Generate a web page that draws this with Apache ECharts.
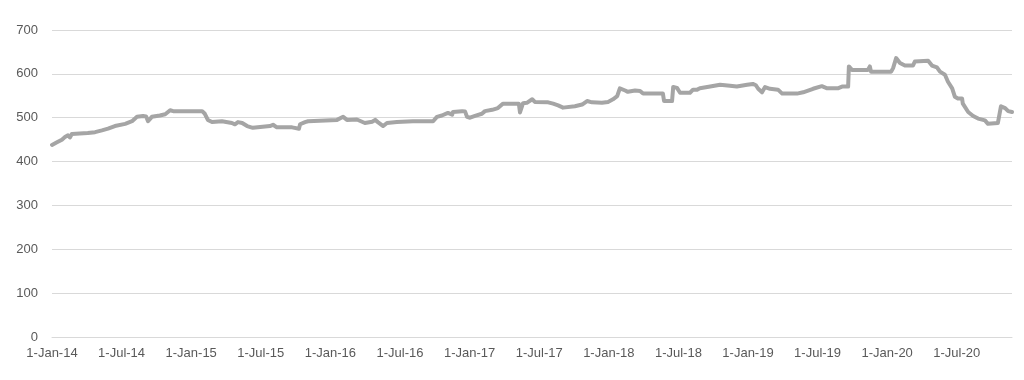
<!DOCTYPE html>
<html>
<head>
<meta charset="utf-8">
<script src="https://cdn.jsdelivr.net/npm/echarts@6/dist/echarts.min.js"></script>
<style>
  html, body { margin: 0; padding: 0; background: #fff; }
  #chart { width: 1024px; height: 380px; }
</style>
</head>
<body>
<div id="chart"></div>
<script>
// Dates of the series (step points)
const dates = [
  "2014-01-01","2014-01-14","2014-01-27","2014-02-04","2014-02-12","2014-02-17","2014-02-22","2014-04-05","2014-04-24","2014-05-12",
  "2014-05-28","2014-06-15","2014-07-12","2014-07-30","2014-08-12","2014-08-28","2014-09-05","2014-09-10","2014-09-20","2014-10-11",
  "2014-10-25","2014-11-07","2014-11-15","2015-01-30","2015-02-06","2015-02-14","2015-02-25","2015-03-23","2015-04-18","2015-04-26",
  "2015-05-04","2015-05-15","2015-05-28","2015-06-12","2015-07-27","2015-08-04","2015-08-14","2015-09-23","2015-09-25","2015-10-11",
  "2015-10-14","2015-10-27","2015-11-04","2016-01-19","2016-02-04","2016-02-14","2016-03-11","2016-04-01","2016-04-20","2016-04-28",
  "2016-05-05","2016-05-19","2016-05-29","2016-06-24","2016-08-05","2016-09-27","2016-10-07","2016-10-20","2016-11-05","2016-11-16",
  "2016-11-18","2016-12-12","2016-12-20","2016-12-25","2017-01-02","2017-01-15","2017-02-02","2017-02-10","2017-03-01","2017-03-16",
  "2017-03-29","2017-05-10","2017-05-13","2017-05-18","2017-05-21","2017-05-31","2017-06-14","2017-06-21","2017-07-26","2017-08-08",
  "2017-08-21","2017-09-03","2017-10-04","2017-10-23","2017-11-05","2017-11-18","2017-12-14","2017-12-30","2018-01-12","2018-01-23",
  "2018-01-30","2018-02-13","2018-02-20","2018-03-11","2018-03-24","2018-04-01","2018-05-23","2018-05-26","2018-06-16","2018-06-19",
  "2018-06-29","2018-07-07","2018-08-02","2018-08-10","2018-08-21","2018-08-28","2018-09-24","2018-10-20","2018-11-15","2018-12-03",
  "2018-12-30","2019-01-14","2019-01-22","2019-01-28","2019-02-07","2019-02-15","2019-02-28","2019-03-21","2019-04-01","2019-05-10",
  "2019-05-26","2019-06-21","2019-07-14","2019-07-28","2019-08-25","2019-09-05","2019-09-21","2019-09-23","2019-10-01","2019-11-12",
  "2019-11-17","2019-11-20","2020-01-12","2020-01-17","2020-01-25","2020-02-04","2020-02-17","2020-03-09","2020-03-14","2020-04-18",
  "2020-04-28","2020-05-11","2020-05-19","2020-06-01","2020-06-09","2020-06-20","2020-06-27","2020-07-05","2020-07-16","2020-07-18",
  "2020-08-01","2020-08-14","2020-08-27","2020-09-14","2020-09-22","2020-10-18","2020-10-26","2020-11-06","2020-11-14","2020-11-24"
];
// Values at those dates
const values = [
  438,444,450,456,460,455,463,465,467,471,
  475,481,486,492,502,504,503,492,502,505,
  508,517,515,515,509,495,490,492,488,485,
  490,488,481,477,481,484,478,478,475,475,
  485,490,492,495,502,495,496,488,491,495,
  490,481,488,490,492,492,502,505,511,507,
  513,515,514,502,500,504,509,515,518,522,
  532,532,512,512,533,534,542,536,535,532,
  528,523,526,530,538,535,534,536,542,549,
  567,562,559,562,561,555,555,538,538,570,
  568,557,557,564,564,567,571,575,573,571,
  575,577,574,566,558,570,566,564,555,555,
  558,566,572,567,567,571,571,617,609,609,
  617,605,605,613,636,625,619,619,628,630,
  619,615,605,598,582,567,548,544,544,532,
  513,504,498,494,486,488,526,522,515,513
];
// Axis settings
const yTicks = [0, 100, 200, 300, 400, 500, 600, 700];
const startDate = "2014-01-01";
const endDate = "2020-11-24";
const monthNames = ["Jan","Feb","Mar","Apr","May","Jun","Jul","Aug","Sep","Oct","Nov","Dec"];

const DAY = 86400000;
function toMs(s) { const p = s.split("-").map(Number); return Date.UTC(p[0], p[1] - 1, p[2]); }
const t0 = toMs(startDate);
function dayOffset(s) { return Math.round((toMs(s) - t0) / DAY); }
const seriesData = dates.map((d, i) => [dayOffset(d), values[i]]);

function fmtLabel(v) {
  const d = new Date(t0 + Math.round(v) * DAY);
  let y = d.getUTCFullYear(), m = d.getUTCMonth();
  if (d.getUTCDate() > 15) { m += 1; if (m > 11) { m = 0; y += 1; } }
  return "1-" + monthNames[m] + "-" + String(y).slice(2);
}

const chart = echarts.init(document.getElementById("chart"), null, { renderer: "canvas" });
const fontFam = "'Liberation Sans', Arial, sans-serif";
chart.setOption({
  animation: false,
  backgroundColor: "#ffffff",
  grid: { left: 52, right: 12, top: 30, bottom: 43, containLabel: false },
  xAxis: {
    type: "value",
    min: 0,
    max: dayOffset(endDate),
    interval: 182.625,
    axisLine: { show: true, lineStyle: { color: "#d9d9d9", width: 1 } },
    axisTick: { show: false },
    splitLine: { show: false },
    axisLabel: {
      color: "#595959", fontSize: 13, fontFamily: fontFam, margin: 10,
      showMaxLabel: false, formatter: fmtLabel
    }
  },
  yAxis: {
    type: "value",
    min: yTicks[0],
    max: yTicks[yTicks.length - 1],
    interval: yTicks[1] - yTicks[0],
    axisLine: { show: false },
    axisTick: { show: false },
    splitLine: { show: true, lineStyle: { color: "#d9d9d9", width: 1 } },
    axisLabel: { color: "#595959", fontSize: 13, fontFamily: fontFam, margin: 14 }
  },
  series: [{
    type: "line",
    data: seriesData,
    showSymbol: false,
    symbol: "none",
    lineStyle: { color: "#a5a5a5", width: 4, join: "round", cap: "round" },
    z: 3
  }]
});
</script>
</body>
</html>
